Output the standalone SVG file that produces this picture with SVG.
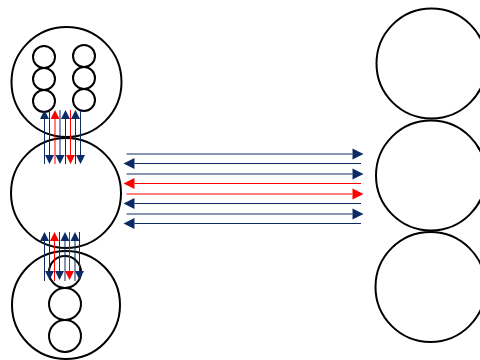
<svg xmlns="http://www.w3.org/2000/svg" width="480" height="360" viewBox="0 0 480 360">
<style>
.c{fill:none;stroke:#000;stroke-width:2}
.n{stroke:#0b2a66;stroke-width:1;fill:none}
.r{stroke:#ff0000;stroke-width:1;fill:none}
.fn{fill:#0b2a66}
.fr{fill:#ff0000}
</style>
<defs>
<path id="hr" d="M0,-5.5 L11,0 L0,5.5 z"/>
<path id="hl" d="M0,-5.5 L-11,0 L0,5.5 z"/>
<path id="vu" d="M-4.5,0 L0,-9 L4.5,0 z"/>
<path id="vd" d="M-4.5,0 L0,9 L4.5,0 z"/>
</defs>
<g id="left-top">
<circle class="c" cx="66.5" cy="82" r="55"/>
<circle class="c" cx="44" cy="57" r="11"/>
<circle class="c" cx="44" cy="79" r="11"/>
<circle class="c" cx="44" cy="101" r="11"/>
<circle class="c" cx="84" cy="56" r="11"/>
<circle class="c" cx="84" cy="78" r="11"/>
<circle class="c" cx="84" cy="100" r="11"/>
</g>
<g id="left-middle">
<circle class="c" cx="66" cy="193" r="55"/>
</g>
<g id="left-bottom">
<circle class="c" cx="66" cy="305" r="54"/>
<circle class="c" cx="65" cy="272" r="16"/>
<circle class="c" cx="65" cy="304" r="16"/>
<circle class="c" cx="65" cy="336" r="16"/>
</g>
<g id="right-top"><circle class="c" cx="431.5" cy="63.5" r="55"/></g>
<g id="right-middle"><circle class="c" cx="431" cy="175.5" r="55"/></g>
<g id="right-bottom"><circle class="c" cx="430.5" cy="287" r="55"/></g>
<g id="connectors">
<!-- top vertical group: up arrows -->
<line class="n" x1="44.5" y1="164" x2="44.5" y2="119"/><use href="#vu" class="fn" x="44.5" y="119"/>
<line class="r" x1="55" y1="164" x2="55" y2="119"/><use href="#vu" class="fr" x="55" y="119"/>
<line class="n" x1="65.5" y1="164" x2="65.5" y2="119"/><use href="#vu" class="fn" x="65.5" y="119"/>
<line class="n" x1="75.5" y1="164" x2="75.5" y2="119"/><use href="#vu" class="fn" x="75.5" y="119"/>
<!-- top vertical group: down arrows -->
<line class="n" x1="49.5" y1="110" x2="49.5" y2="155"/><use href="#vd" class="fn" x="49.5" y="155"/>
<line class="n" x1="60" y1="110" x2="60" y2="155"/><use href="#vd" class="fn" x="60" y="155"/>
<line class="r" x1="70.5" y1="110" x2="70.5" y2="155"/><use href="#vd" class="fr" x="70.5" y="155"/>
<line class="n" x1="80.5" y1="110" x2="80.5" y2="155"/><use href="#vd" class="fn" x="80.5" y="155"/>
<!-- bottom vertical group: up arrows -->
<line class="n" x1="44.5" y1="281" x2="44.5" y2="241"/><use href="#vu" class="fn" x="44.5" y="241"/>
<line class="r" x1="54.5" y1="281" x2="54.5" y2="241"/><use href="#vu" class="fr" x="54.5" y="241"/>
<line class="n" x1="65" y1="281" x2="65" y2="241"/><use href="#vu" class="fn" x="65" y="241"/>
<line class="n" x1="75" y1="281" x2="75" y2="241"/><use href="#vu" class="fn" x="75" y="241"/>
<!-- bottom vertical group: down arrows -->
<line class="n" x1="49.5" y1="232" x2="49.5" y2="271"/><use href="#vd" class="fn" x="49.5" y="271"/>
<line class="n" x1="59.5" y1="232" x2="59.5" y2="271"/><use href="#vd" class="fn" x="59.5" y="271"/>
<line class="r" x1="69.5" y1="232" x2="69.5" y2="271"/><use href="#vd" class="fr" x="69.5" y="271"/>
<line class="n" x1="79.5" y1="232" x2="79.5" y2="271"/><use href="#vd" class="fn" x="79.5" y="271"/>
<!-- horizontal group -->
<line class="n" x1="126.5" y1="154" x2="352.5" y2="154"/><use href="#hr" class="fn" x="352.5" y="154"/>
<line class="n" x1="361" y1="163.5" x2="134.5" y2="163.5"/><use href="#hl" class="fn" x="134.5" y="163.5"/>
<line class="n" x1="126.5" y1="174" x2="352.5" y2="174"/><use href="#hr" class="fn" x="352.5" y="174"/>
<line class="r" x1="361" y1="183.5" x2="134.5" y2="183.5"/><use href="#hl" class="fr" x="134.5" y="183.5"/>
<line class="r" x1="126.5" y1="194" x2="352.5" y2="194"/><use href="#hr" class="fr" x="352.5" y="194"/>
<line class="n" x1="361" y1="203.5" x2="134.5" y2="203.5"/><use href="#hl" class="fn" x="134.5" y="203.5"/>
<line class="n" x1="126.5" y1="214" x2="352.5" y2="214"/><use href="#hr" class="fn" x="352.5" y="214"/>
<line class="n" x1="361" y1="223.5" x2="134.5" y2="223.5"/><use href="#hl" class="fn" x="134.5" y="223.5"/>
</g>
</svg>
